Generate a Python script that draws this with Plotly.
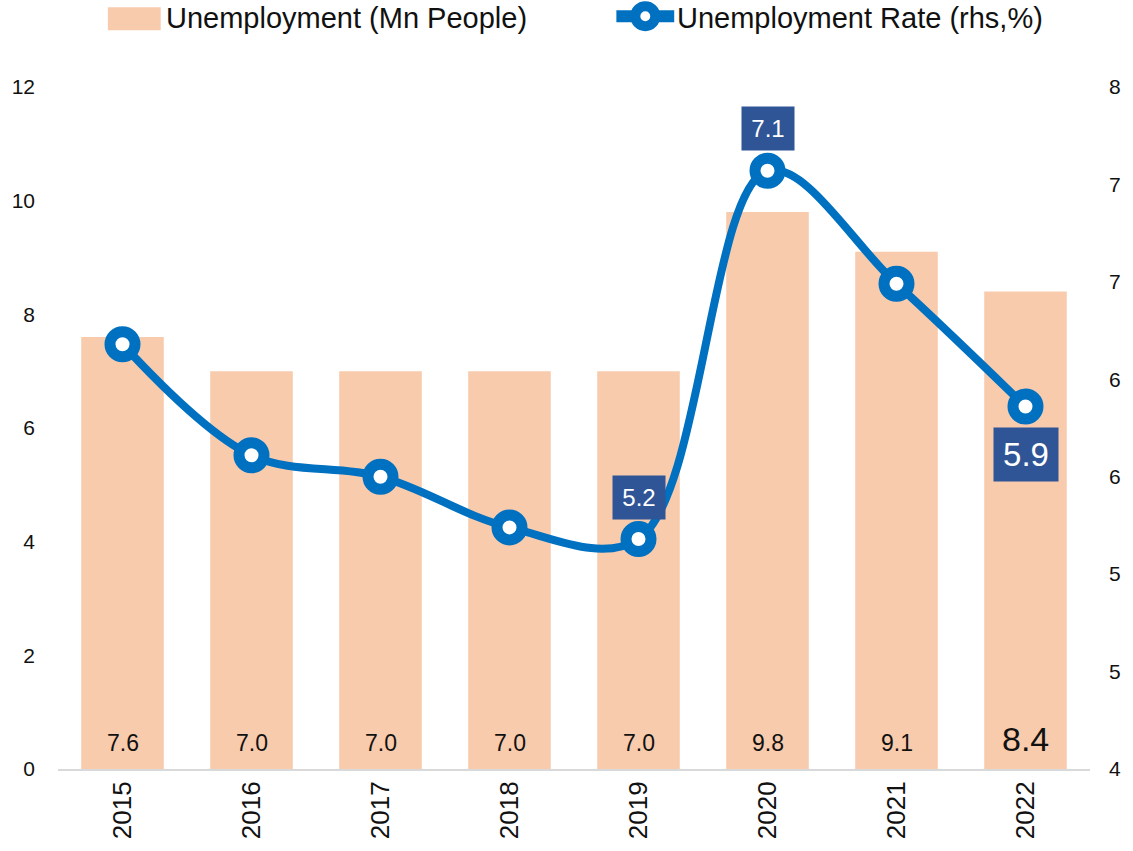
import plotly.graph_objects as go

years = ["2015", "2016", "2017", "2018", "2019", "2020", "2021", "2022"]
unemployment_mn = [7.6, 7.0, 7.0, 7.0, 7.0, 9.8, 9.1, 8.4]
unemployment_rate = [6.18, 5.61, 5.50, 5.24, 5.18, 7.07, 6.49, 5.86]
rate_labels_idx = [4, 5, 7]
rate_label_text = ["5.2", "7.1", "5.9"]
left_ticks = [0, 2, 4, 6, 8, 10, 12]
right_tickvals = [4, 4.5, 5, 5.5, 6, 6.5, 7, 7.5]
right_ticktext = ["4", "5", "5", "6", "6", "7", "7", "8"]
legend_names = ["Unemployment (Mn People)", "Unemployment Rate (rhs,%)"]

FONT = "Liberation Sans, Arial, sans-serif"
BAR = "#F8CBAD"
LINE = "#0070C0"
BOX = "#2F5597"
TXT = "#111111"

W, H = 1133, 851
ML, MR, MT, MB = 57, 41, 87, 80
PW, PH = W - ML - MR, H - MT - MB


def px(xp):
    return (xp - ML) / PW


def py(yp):
    return (H - MB - yp) / PH


xpos = list(range(len(years)))

fig = go.Figure()
fig.add_trace(go.Bar(
    x=xpos, y=unemployment_mn, name=legend_names[0], width=0.64,
    marker=dict(color=BAR, line=dict(width=0)), yaxis="y", hoverinfo="y",
))
fig.add_trace(go.Scatter(
    x=xpos, y=unemployment_rate, name=legend_names[1],
    mode="lines+markers", yaxis="y2",
    line=dict(color=LINE, width=8, shape="spline", smoothing=1),
    marker=dict(symbol="circle", size=25, color="white", line=dict(color=LINE, width=11)),
))

annotations = []
for i, v in enumerate(unemployment_mn):
    big = i == len(years) - 1
    annotations.append(dict(
        x=xpos[i], y=0, xref="x", yref="y", text=f"{v:.1f}", showarrow=False,
        yanchor="middle", yshift=26 if not big else 30,
        font=dict(family=FONT, size=34 if big else 23, color=TXT),
    ))
for k, i in enumerate(rate_labels_idx):
    big = i == len(years) - 1
    annotations.append(dict(
        x=xpos[i], y=unemployment_rate[i], xref="x", yref="y2",
        text=rate_label_text[k], showarrow=False, yanchor="middle", valign="middle",
        yshift=-48 if big else 42,
        width=64 if big else 52, height=53 if big else 43, borderpad=0,
        bgcolor=BOX,
        font=dict(family=FONT, size=33 if big else 24, color="white"),
    ))

# manual legend
annotations.append(dict(x=px(163), y=py(18), xref="paper", yref="paper", text=legend_names[0],
                        showarrow=False, xanchor="left", yanchor="middle",
                        font=dict(family=FONT, size=29, color=TXT)))
annotations.append(dict(x=px(676), y=py(18), xref="paper", yref="paper", text=legend_names[1],
                        showarrow=False, xanchor="left", yanchor="middle",
                        font=dict(family=FONT, size=29, color=TXT)))
shapes = [
    dict(type="rect", xref="paper", yref="paper", x0=px(107), x1=px(160), y0=py(30), y1=py(7),
         fillcolor=BAR, line=dict(width=0)),
    dict(type="line", xref="paper", yref="paper", x0=px(617), x1=px(675), y0=py(16), y1=py(16),
         line=dict(color=LINE, width=12)),
    dict(type="circle", xref="paper", yref="paper", x0=px(636), x1=px(656), y0=py(26), y1=py(6),
         fillcolor="white", line=dict(color=LINE, width=10)),
]

fig.update_layout(
    width=W, height=H,
    margin=dict(l=ML, r=MR, t=MT, b=MB),
    paper_bgcolor="white", plot_bgcolor="white",
    showlegend=False,
    xaxis=dict(
        range=[-0.5, len(years) - 0.5], tickvals=xpos, ticktext=years, tickangle=-90,
        showgrid=False, zeroline=False,
        showline=True, linecolor="#D9D9D9", linewidth=2,
        ticks="", tickfont=dict(family=FONT, size=26, color=TXT),
    ),
    yaxis=dict(
        range=[0, 12], tickvals=left_ticks, showgrid=False, zeroline=False,
        showline=False, ticks="", ticklabelstandoff=22,
        tickfont=dict(family=FONT, size=21, color=TXT),
    ),
    yaxis2=dict(
        range=[4, 7.5], tickvals=right_tickvals, ticktext=right_ticktext,
        overlaying="y", side="right", showgrid=False, zeroline=False,
        showline=False, ticks="", ticklabelstandoff=18,
        tickfont=dict(family=FONT, size=21, color=TXT),
    ),
    annotations=annotations,
    shapes=shapes,
)

fig.write_html("out.html")
